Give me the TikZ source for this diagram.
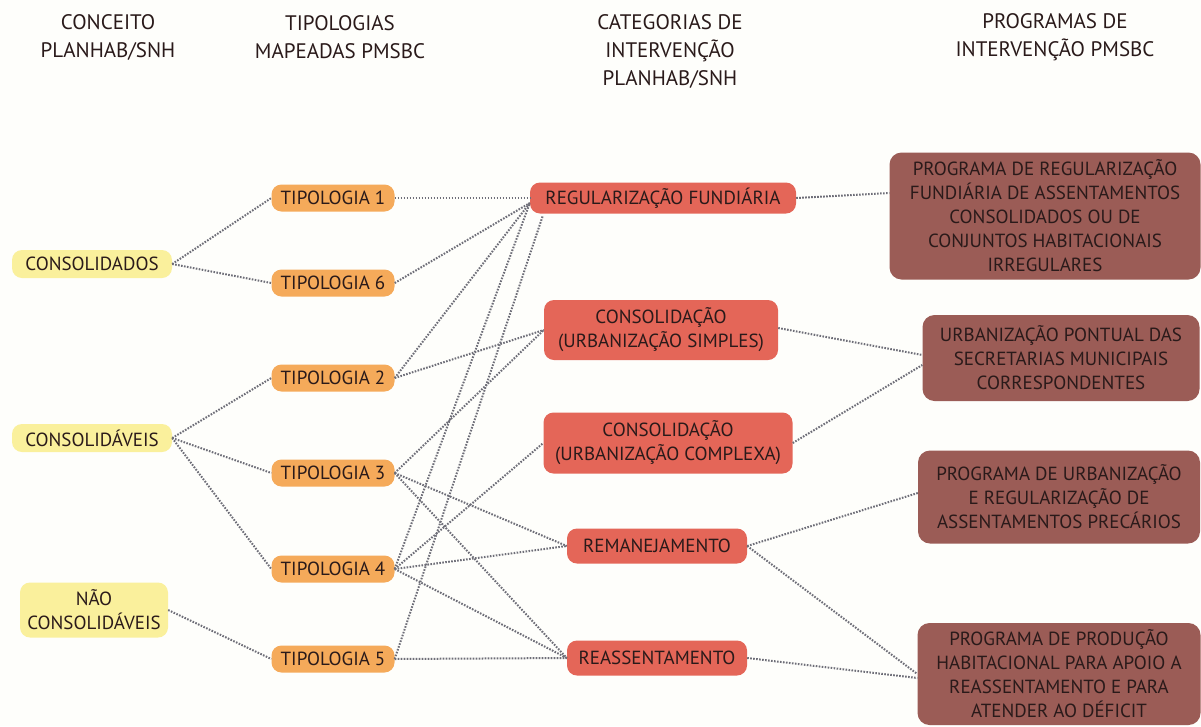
\documentclass[tikz,border=0pt]{standalone}
\usepackage{fontspec}
\setmainfont{PT Sans}
\newfontfamily\headfont{PT Sans}
\usetikzlibrary{calc}
\definecolor{bgc}{HTML}{FEFEFB}
\definecolor{yel}{HTML}{FAF09C}
\definecolor{ora}{HTML}{F5AA5A}
\definecolor{redc}{HTML}{E46658}
\definecolor{brn}{HTML}{9B5C56}
\definecolor{txt}{HTML}{2A1A1A}
\definecolor{lnc}{HTML}{6E6E78}
\tikzset{
  head/.style={font=\headfont\fontsize{21}{28}\selectfont, align=center, text=txt, inner sep=0pt},
  base/.style={rounded corners=10pt, align=center, text=txt, inner sep=0pt,
               font=\fontsize{19}{24}\selectfont},
  conc/.style={base, fill=yel},
  tipo/.style={base, fill=ora, minimum width=123pt, minimum height=27pt},
  cat/.style={base, fill=redc},
  prog/.style={base, fill=brn, rounded corners=12pt},
  link/.style={draw=lnc, line width=2pt, dash pattern=on 1.6pt off 1.4pt},
}
\begin{document}
\begin{tikzpicture}[x=1pt,y=-1pt]
\useasboundingbox (0,0) rectangle (1201,726);
\fill[bgc] (0,0) rectangle (1201,726);

% headers
\node[head] (h1) at (108,37) {CONCEITO\\PLANHAB/SNH};
\node[head] (h2) at (340,37) {TIPOLOGIAS\\MAPEADAS PMSBC};
\node[head] (h3) at (670,51) {CATEGORIAS DE\\INTERVENÇÃO\\PLANHAB/SNH};
\node[head] (h4) at (1055,37) {PROGRAMAS DE\\INTERVENÇÃO PMSBC};

% level 1
\node[conc, minimum width=160pt, minimum height=28pt] (c1) at (92,264) {CONSOLIDADOS};
\node[conc, minimum width=160pt, minimum height=28pt] (c2) at (92,438) {CONSOLIDÁVEIS};
\node[conc, minimum width=148pt, minimum height=55pt] (c3) at (94,610) {NÃO\\CONSOLIDÁVEIS};

% level 2
\node[tipo] (t1) at (333,198) {TIPOLOGIA 1};
\node[tipo] (t6) at (333,283) {TIPOLOGIA 6};
\node[tipo] (t2) at (333,378) {TIPOLOGIA 2};
\node[tipo] (t3) at (333,473) {TIPOLOGIA 3};
\node[tipo] (t4) at (333,569) {TIPOLOGIA 4};
\node[tipo] (t5) at (333,659) {TIPOLOGIA 5};

% level 3
\node[cat, minimum width=266pt, minimum height=31pt] (reg) at (663,198) {REGULARIZAÇÃO FUNDIÁRIA};
\node[cat, minimum width=234pt, minimum height=60pt] (cs) at (661,330) {CONSOLIDAÇÃO\\(URBANIZAÇÃO SIMPLES)};
\node[cat, minimum width=249pt, minimum height=61pt] (cc) at (668,443) {CONSOLIDAÇÃO\\(URBANIZAÇÃO COMPLEXA)};
\node[cat, minimum width=180pt, minimum height=35pt] (rem) at (657,546) {REMANEJAMENTO};
\node[cat, minimum width=180pt, minimum height=35pt] (rea) at (657,658) {REASSENTAMENTO};

% level 4
\node[prog, minimum width=311pt, minimum height=127pt] (b1) at (1045,216) {PROGRAMA DE REGULARIZAÇÃO\\FUNDIÁRIA DE ASSENTAMENTOS\\CONSOLIDADOS OU DE\\CONJUNTOS HABITACIONAIS\\IRREGULARES};
\node[prog, minimum width=277pt, minimum height=86pt] (b2) at (1061,358) {URBANIZAÇÃO PONTUAL DAS\\SECRETARIAS MUNICIPAIS\\CORRESPONDENTES};
\node[prog, minimum width=282pt, minimum height=93pt] (b3) at (1059,497) {PROGRAMA DE URBANIZAÇÃO\\E REGULARIZAÇÃO DE\\ASSENTAMENTOS PRECÁRIOS};
\node[prog, minimum width=283pt, minimum height=102pt] (b4) at (1059,674) {PROGRAMA DE PRODUÇÃO\\HABITACIONAL PARA APOIO A\\REASSENTAMENTO E PARA\\ATENDER AO DÉFICIT};

% level1 -> level2
\draw[link] (c1.east) -- (t1.west);
\draw[link] (c1.east) -- (t6.west);
\draw[link] (c2.east) -- (t2.west);
\draw[link] (c2.east) -- (t3.west);
\draw[link] (c2.east) -- (t4.west);
\draw[link] (c3.east) -- (t5.west);

% level2 -> level3
\coordinate (regA) at ([yshift=-5pt]reg.west);
\coordinate (regB) at ([xshift=13pt,yshift=-2pt]reg.south west);
\draw[link] (t1.east) -- (reg.west);
\draw[link] (t6.east) -- (regA);
\draw[link] (t2.east) -- (regA);
\draw[link] (t4.east) -- (regA);
\draw[link] (t5.east) -- (regB);
\draw[link] (t2.east) -- (cs.west);
\draw[link] (t3.east) -- (cs.west);
\draw[link] (t4.east) -- (cc.west);
\draw[link] (t3.east) -- (rem.west);
\draw[link] (t4.east) -- (rem.west);
\draw[link] (t3.east) -- (rea.west);
\draw[link] (t4.east) -- (rea.west);
\draw[link] (t5.east) -- (rea.west);

% level3 -> level4
\draw[link] (reg.east) -- ([yshift=23pt]b1.west);
\draw[link] ([yshift=2pt]cs.east) -- ([yshift=3pt]b2.west);
\draw[link] (cc.east) -- ([yshift=-7pt]b2.west);
\draw[link] (rem.east) -- ([yshift=4pt]b3.west);
\draw[link] (rem.east) -- (b4.west);
\draw[link] (rea.east) -- ([yshift=-4pt]b4.west);
\end{tikzpicture}
\end{document}
